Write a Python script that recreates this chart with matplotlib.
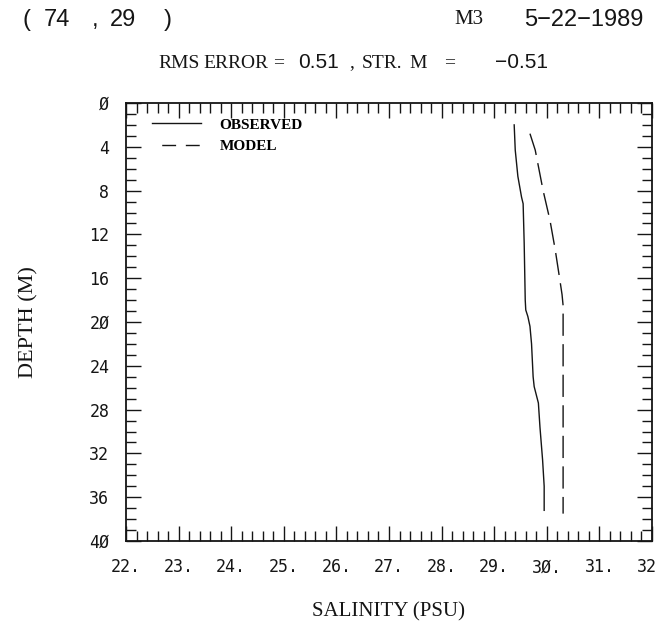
import matplotlib
matplotlib.use("Agg")
import matplotlib.pyplot as plt
from matplotlib.ticker import MultipleLocator, FixedLocator, NullFormatter, FixedFormatter
from matplotlib.lines import Line2D

# Observed salinity profile (PSU) against depth (m)
obs_depth = [2.0, 4.3, 6.7, 8.6, 9.2, 12.8, 18.0, 18.9, 19.5, 20.4, 22.0, 25.0,
             25.9, 27.4, 29.6, 32.6, 35.0, 37.2]
obs_sal = [29.38, 29.40, 29.45, 29.52, 29.55, 29.57, 29.59, 29.60, 29.64, 29.68,
           29.71, 29.74, 29.76, 29.84, 29.87, 29.92, 29.95, 29.95]

# Model salinity profile
mod_depth = [2.8, 4.3, 8.0, 10.7, 13.4, 15.9, 17.5, 18.5, 25.0, 30.0, 37.5]
mod_sal = [29.68, 29.78, 29.93, 30.06, 30.16, 30.24, 30.29, 30.31, 30.31, 30.31, 30.31]

x_ticks = [22, 23, 24, 25, 26, 27, 28, 29, 30, 31, 32]
x_labels = ["22.", "23.", "24.", "25.", "26.", "27.", "28.", "29.", "3\u00d8.", "31.", "32"]
y_ticks = [0, 4, 8, 12, 16, 20, 24, 28, 32, 36, 40]
y_labels = ["\u00d8", "4", "8", "12", "16", "2\u00d8", "24", "28", "32", "36", "4\u00d8"]

W, H = 660, 627
fig = plt.figure(figsize=(W / 100, H / 100), dpi=100)
ax = fig.add_axes([126 / W, 1 - 541 / H, 526 / W, 438 / H])

ink = "#151515"
serif = ["Liberation Serif", "DejaVu Serif"]
sans = ["Liberation Sans", "DejaVu Sans"]
mono = ["DejaVu Sans Mono"]

ax.plot(obs_sal, obs_depth, color=ink, lw=1.0, solid_joinstyle="round")
ax.plot(mod_sal, mod_depth, color=ink, lw=1.0, dashes=(16, 6))

ax.set_xlim(22, 32)
ax.set_ylim(40, 0)

ax.xaxis.set_major_locator(FixedLocator(x_ticks))
ax.xaxis.set_major_formatter(NullFormatter())
ax.xaxis.set_minor_locator(MultipleLocator(0.2))
ax.yaxis.set_major_locator(FixedLocator(y_ticks))
ax.yaxis.set_major_formatter(FixedFormatter(y_labels))
ax.yaxis.set_minor_locator(MultipleLocator(1))

ax.tick_params(which="both", direction="in", top=True, right=True, color=ink,
               width=1.0)
ax.tick_params(which="major", length=11, pad=12)
ax.tick_params(which="minor", length=7.5)
for lab in ax.get_yticklabels():
    lab.set_fontfamily(mono)
    lab.set_fontsize(12)
    lab.set_color(ink)

# Salinity tick labels, centred under each major tick; the last one is
# nudged inward so it stays on the page.
for i, (xv, s) in enumerate(zip(x_ticks, x_labels)):
    dx = -3.5 if i == len(x_ticks) - 1 else 0
    ax.annotate(s, xy=(xv, 0), xycoords=("data", "axes fraction"),
                xytext=(dx, -19), textcoords="offset points",
                ha="center", va="center", fontfamily=mono, fontsize=12,
                color=ink, annotation_clip=False)

for sp in ax.spines.values():
    sp.set_linewidth(1.3)
    sp.set_color(ink)

ax.set_xlabel("SALINITY (PSU)", fontfamily=serif, fontsize=15, color=ink,
              labelpad=0)
ax.xaxis.set_label_coords(0.5, -(612 - 541) / 438)
ax.set_ylabel("DEPTH (M)", fontfamily=serif, fontsize=16, color=ink)
ax.yaxis.set_label_coords(-(126 - 29) / 526, 0.5)
ax.yaxis.label.set_verticalalignment("center")
ax.xaxis.label.set_verticalalignment("center")

handles = [Line2D([], [], color=ink, lw=1.0),
           Line2D([], [], color=ink, lw=1.0, linestyle=(10, (10, 7)))]
ax.legend(handles, ["OBSERVED", "MODEL"], loc="upper left", frameon=False,
          prop={"family": serif, "size": 11, "weight": "bold"},
          handlelength=3.2, handletextpad=1.2, borderaxespad=0.3,
          labelspacing=0.5, bbox_to_anchor=(0.03, 0.99))


def ftext(x, y, s, fam, size=14, ha="left"):
    fig.text(x / W, 1 - y / H, s, fontfamily=fam, fontsize=size, color=ink,
             ha=ha, va="center")


# Header: grid point, station and date
ftext(22, 20, "(", sans, 17)
ftext(44, 20, "74", sans, 17)
ftext(92, 20, ",", sans, 17)
ftext(110, 20, "29", sans, 17)
ftext(164, 20, ")", sans, 17)
ftext(454, 20, "M3", serif, 15)
ftext(643, 20, "5\u221222\u22121989", sans, 17, ha="right")

# Header: error statistics
ftext(158, 63, "RMS", serif, 14)
ftext(203, 63, "ERROR", serif, 14)
ftext(273, 63, "=", serif, 14)
ftext(298, 63, "0.51", sans, 15)
ftext(349, 63, ",", serif, 14)
ftext(362, 63, "STR.", serif, 14)
ftext(409, 63, "M", serif, 14)
ftext(444, 63, "=", serif, 14)
ftext(495, 63, "\u22120.51", sans, 15)

fig.savefig("out.png", dpi=100, facecolor="white")
